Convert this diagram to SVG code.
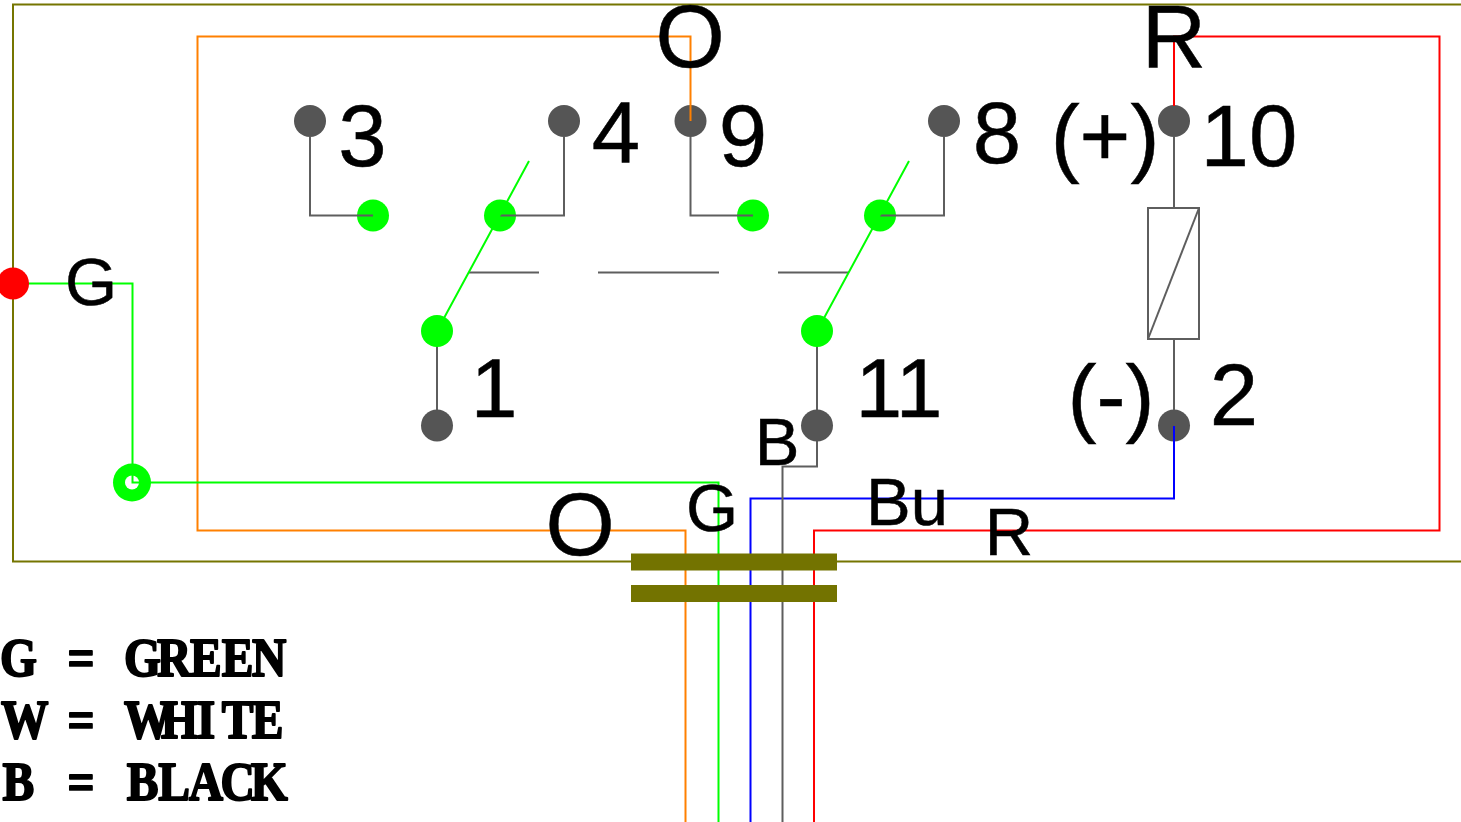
<svg xmlns="http://www.w3.org/2000/svg" width="1461" height="822" viewBox="0 0 1461 822">
<style>
.w{fill:none;stroke-width:2}
.gn{stroke:#00ff00}.gy{stroke:#5e5e5e}.or{stroke:#ff8000}.re{stroke:#ff0000}.bl{stroke:#0000ff}
.t{font-family:"Liberation Sans",Arial,sans-serif;fill:#000;stroke:#000;stroke-width:.5px}
.xl{font-size:89px}.l{font-size:87px}.l2{font-size:84px}.m{font-size:67px}
.c{text-anchor:middle}
.m2{font-family:"Liberation Serif",serif;font-weight:bold;font-size:54px;fill:#000;stroke:#000;stroke-width:2px;stroke-linejoin:round;text-anchor:middle}
.dg{fill:#555555}.dn{fill:#00ff00}
</style>
<rect width="1461" height="822" fill="#ffffff"/>
<g id="node-3"><circle class="dg" cx="310" cy="121" r="16"/><circle class="dn" cx="373" cy="215.500" r="16"/><text class="t l c" x="362.500" y="165.500">3</text></g>
<g id="node-4"><circle class="dg" cx="564" cy="121" r="16"/><circle class="dn" cx="500" cy="215.500" r="16"/><text class="t l c" x="616" y="162.500">4</text></g>
<g id="node-9"><circle class="dg" cx="690.500" cy="121" r="16"/><circle class="dn" cx="753" cy="215.500" r="16"/><text class="t l c" x="743" y="165.500">9</text></g>
<g id="node-8"><circle class="dg" cx="944" cy="121" r="16"/><circle class="dn" cx="880" cy="215.500" r="16"/><text class="t l c" x="997" y="162.500">8</text></g>
<g id="node-10"><circle class="dg" cx="1174" cy="121" r="16"/><text class="t l c" x="1249" y="165.500">10</text><text class="t l c" x="1105" y="165.500">(+)</text></g>
<g id="node-2"><circle class="dg" cx="1174" cy="425.500" r="16"/><text class="t l c" x="1234" y="425">2</text><text class="t l c" x="1111" y="426">(-)</text></g>
<g id="connectors">
<path class="w" stroke="#757500" d="M1461 4.500H13V561.500H1461"/>
<path class="w or" d="M690.500 121V36.500H197.500V530.500H685.500V822"/>
<path class="w re" d="M1174 106V36.500H1439.500V530.500H814V822"/>
<path class="w bl" d="M1174 426V498.500H750.500V822"/>
<path class="w gy" d="M817 426V466.500H782.500V822"/>
<path class="w gn" d="M14 283.500H132.500V482.500H718.500V822"/>
<path class="w gy" d="M310 137V215.500H373M564 137V215.500H500M690.500 137V215.500H753M944 137V215.500H880M437 331V425M817 331V426M1174 137V208M1174 339V410"/>
<path class="w gy" d="M469 272.500H539M598 272.500H719M778 272.500H849"/>
<path class="w gn" d="M437 331L529 161M817 331L909 161"/>
<rect class="w gy" x="1148" y="208" width="51" height="131"/>
<path class="w gy" d="M1148 339L1199 208"/>
</g>
<g id="bars" fill="#737300">
<rect x="631" y="553.500" width="206" height="17"/>
<rect x="631" y="585" width="206" height="17"/>
</g>
<g id="node-red"><circle cx="13" cy="283.500" r="16" fill="#ff0000"/></g>
<g id="node-junction"><circle cx="132" cy="482.500" r="19" fill="#00ff00"/><circle cx="132" cy="482.500" r="7" fill="#ffffff"/><path class="w gn" d="M132.500 474V482.500H141"/></g>
<g id="node-1"><circle class="dn" cx="437" cy="331" r="16"/><circle class="dg" cx="437" cy="425.500" r="16"/><text class="t l2 c" x="494" y="417">1</text></g>
<g id="node-11"><circle class="dn" cx="817" cy="331" r="16"/><circle class="dg" cx="817" cy="425.500" r="16"/><text class="t l2 c" x="899" y="417">11</text></g>
<g id="labels">
<text class="t xl c" x="690" y="67">O</text>
<text class="t xl c" x="1174" y="67">R</text>
<text class="t xl c" x="580" y="555">O</text>
<text class="t m c" x="91" y="305">G</text>
<text class="t m c" x="712" y="531">G</text>
<text class="t m c" x="777" y="465">B</text>
<text class="t m c" x="907" y="525">Bu</text>
<text class="t m c" x="1009" y="555">R</text>
<text class="m2" transform="scale(.88 1)" x="21 56 92 126 162 198 234 270 306" y="676">G = GREEN</text>
<text class="m2" transform="scale(.88 1)" x="28 56 92 126 168 204 234 270 304" y="738">W = WHITE</text>
<text class="m2" transform="scale(.88 1)" x="21 56 92 126 162 198 234 270 306" y="800">B = BLACK</text>
</g>
</svg>
